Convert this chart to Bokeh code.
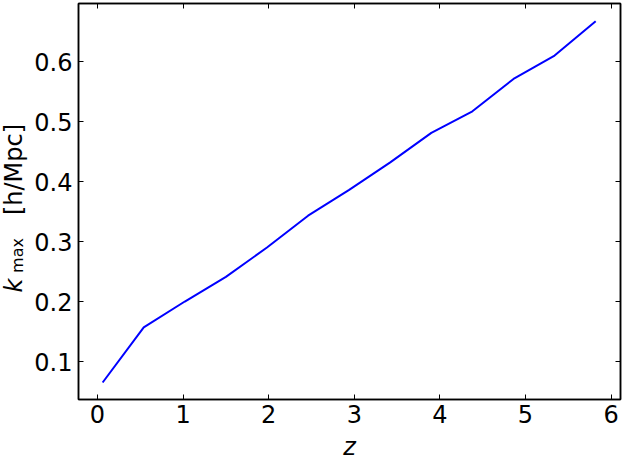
import math
from bokeh.plotting import figure
from bokeh.layouts import row
from bokeh.models import LinearAxis, FixedTicker, Label, Range1d
from bokeh.embed import file_html
from bokeh.resources import INLINE

# data
z = [0.06, 0.54, 1.02, 1.50, 1.98, 2.46, 2.94, 3.42, 3.90, 4.38, 4.86, 5.34, 5.82]
kmax = [0.065, 0.157, 0.200, 0.241, 0.290, 0.343, 0.386, 0.432, 0.481, 0.517, 0.571, 0.610, 0.667]
x_ticks = [0, 1, 2, 3, 4, 5, 6]
y_ticks = [0.1, 0.2, 0.3, 0.4, 0.5, 0.6]

FONT = "DejaVu Sans"
FS = "24px"

LABEL_W = 30          # strip that holds the y-axis title
MAIN_LEFT = 48        # tick-label border of the main figure
TOP, FW, FH, BOTTOM, RIGHT = 3, 542, 396, 59, 3
H = TOP + FH + BOTTOM

X0, X1 = -0.222, 6.11
Y0, Y1 = 0.0367, 0.6967

p = figure(output_backend="svg", toolbar_location=None,
           frame_width=FW, frame_height=FH,
           x_range=Range1d(X0, X1), y_range=Range1d(Y0, Y1),
           min_border=0, min_border_left=MAIN_LEFT, min_border_bottom=BOTTOM,
           min_border_top=TOP, min_border_right=RIGHT,
           background_fill_color="white", border_fill_color="white")
p.grid.visible = False
p.outline_line_color = "black"
p.outline_line_width = 1.5

p.line(z, kmax, line_color="#0000ff", line_width=2)

def style_axis(ax, ticks, show_labels):
    ax.ticker = FixedTicker(ticks=ticks)
    ax.major_tick_in = 5
    ax.major_tick_out = 0
    ax.minor_tick_in = 0
    ax.minor_tick_out = 0
    ax.major_tick_line_color = "black"
    ax.major_tick_line_width = 1
    ax.axis_line_color = "black"
    ax.axis_line_width = 1.5
    if show_labels:
        ax.major_label_text_font = FONT
        ax.major_label_text_font_size = FS
        ax.major_label_text_color = "black"
    else:
        ax.major_label_text_color = None
        ax.major_label_standoff = 0
        ax.axis_label = None

xa = p.xaxis[0]
style_axis(xa, x_ticks, True)
xa.major_label_standoff = 5
xa.axis_label = "z"
xa.axis_label_text_font = FONT
xa.axis_label_text_font_size = FS
xa.axis_label_text_font_style = "italic"
xa.axis_label_text_color = "black"
xa.axis_label_standoff = 7

ya = p.yaxis[0]
style_axis(ya, y_ticks, True)
ya.major_label_standoff = 6

top = LinearAxis()
style_axis(top, x_ticks, False)
p.add_layout(top, "above")
right = LinearAxis()
style_axis(right, y_ticks, False)
p.add_layout(right, "right")

# narrow strip on the left that carries the y-axis title: k_max [h/Mpc]
# (its ranges are in pixels, y measured downwards from the top)
lab = figure(output_backend="svg", toolbar_location=None,
             frame_width=LABEL_W, frame_height=H,
             x_range=Range1d(0, LABEL_W), y_range=Range1d(H, 0),
             min_border=0, background_fill_color="white", border_fill_color="white")
lab.axis.visible = False
lab.grid.visible = False
lab.outline_line_color = None

lab.add_layout(Label(x=13.5, y=289, text="k", angle=math.pi / 2,
                     text_font=FONT, text_font_size=FS, text_font_style="italic",
                     text_align="left", text_baseline="alphabetic", text_color="black"))
lab.add_layout(Label(x=16.5, y=252, text="max", angle=math.pi / 2,
                     text_font=FONT, text_font_size="16px",
                     text_align="center", text_baseline="alphabetic", text_color="black"))
lab.add_layout(Label(x=13.5, y=166, text="[h/Mpc]", angle=math.pi / 2,
                     text_font=FONT, text_font_size=FS,
                     text_align="center", text_baseline="alphabetic", text_color="black"))

layout = row(lab, p, spacing=0)
open("out.html", "w").write(file_html(layout, INLINE))
